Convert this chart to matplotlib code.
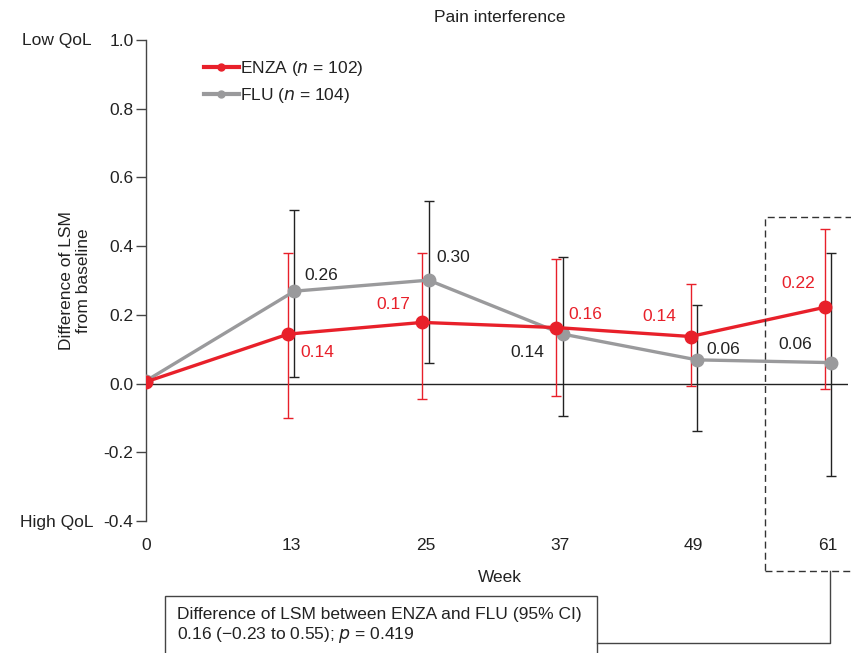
import matplotlib
matplotlib.use("Agg")
import matplotlib.pyplot as plt
from matplotlib.lines import Line2D
from matplotlib.patches import Rectangle

plt.rcParams['font.family'] = ['Liberation Sans', 'DejaVu Sans']

weeks = [0, 13, 25, 37, 49, 61]
week_labels = ['0', '13', '25', '37', '49', '61']

enza = [0.005, 0.144, 0.178, 0.163, 0.137, 0.222]
enza_lo = [0.005, -0.10, -0.046, -0.035, -0.006, -0.017]
enza_hi = [0.005, 0.38, 0.38, 0.364, 0.29, 0.45]
enza_lbl = [None, '0.14', '0.17', '0.16', '0.14', '0.22']

flu = [0.008, 0.269, 0.301, 0.144, 0.069, 0.061]
flu_lo = [0.008, 0.02, 0.061, -0.093, -0.137, -0.268]
flu_hi = [0.008, 0.506, 0.531, 0.367, 0.228, 0.38]
flu_lbl = [None, '0.26', '0.30', '0.14', '0.06', '0.06']

yticks = [-0.4, -0.2, 0.0, 0.2, 0.4, 0.6, 0.8, 1.0]
ytick_labels = ['-0.4', '-0.2', '0.0', '0.2', '0.4', '0.6', '0.8', '1.0']

RED = '#E8202A'
GRAY = '#9A9A9C'
DARK = '#222222'
FS = 12.5

W, H = 851, 653
fig = plt.figure(figsize=(W / 100, H / 100), dpi=100)
ax = fig.add_axes([146 / W, 1 - 521 / H, (848 - 146) / W, (521 - 40) / H])
ax.set_xlim(0, 62.8)
ax.set_ylim(-0.4, 1.0)

off = 0.28
ex = [w - off if w > 0 else w for w in weeks]
fx = [w + off if w > 0 else w for w in weeks]

# error bars
for i in range(1, len(weeks)):
    ax.errorbar([fx[i]], [flu[i]], yerr=[[flu[i] - flu_lo[i]], [flu_hi[i] - flu[i]]],
                fmt='none', ecolor=DARK, elinewidth=1.0, capsize=3.5, capthick=1.0, zorder=2)
    ax.errorbar([ex[i]], [enza[i]], yerr=[[enza[i] - enza_lo[i]], [enza_hi[i] - enza[i]]],
                fmt='none', ecolor=RED, elinewidth=1.0, capsize=3.5, capthick=1.0, zorder=2)

ax.axhline(0, color=DARK, lw=1.0, zorder=1)

ax.plot(fx, flu, color=GRAY, lw=2.4, marker='o', ms=9, zorder=3)
ax.plot(ex, enza, color=RED, lw=2.4, marker='o', ms=9, zorder=4)

# value labels
enza_off = [None, (12, -18), (-12, 18), (12, 13), (-14, 20), (-10, 24)]
flu_off = [None, (10, 16), (8, 23), (-18, -18), (10, 10), (-19, 18)]
for i in range(1, len(weeks)):
    dx, dy = enza_off[i]
    ax.annotate(enza_lbl[i], (ex[i], enza[i]), xytext=(dx, dy), textcoords='offset pixels',
                color=RED, fontsize=FS, ha='left' if dx > 0 else 'right', va='center', zorder=5)
    dx, dy = flu_off[i]
    ax.annotate(flu_lbl[i], (fx[i], flu[i]), xytext=(dx, dy), textcoords='offset pixels',
                color=DARK, fontsize=FS, ha='left' if dx > 0 else 'right', va='center', zorder=5)

for s in ['top', 'right', 'bottom']:
    ax.spines[s].set_visible(False)
ax.spines['left'].set_color('#444444')
ax.spines['left'].set_linewidth(1.0)
ax.set_yticks(yticks)
ax.set_yticklabels(ytick_labels)
ax.tick_params(axis='y', length=7, width=1.0, color='#444444', labelsize=FS, pad=2, labelcolor=DARK)
ax.set_xticks(weeks)
ax.set_xticklabels(week_labels)
ax.tick_params(axis='x', length=0, labelsize=FS, pad=12, labelcolor=DARK)
ax.set_xlabel('Week', fontsize=FS, color=DARK)
ax.xaxis.label.set_va('center')
ax.xaxis.set_label_coords((500 - 146) / (848 - 146), -(577 - 521) / (521 - 40))
ax.set_ylabel('Difference of LSM\nfrom baseline', fontsize=FS, color=DARK, linespacing=1.15)
ax.yaxis.label.set_va('center')
ax.yaxis.set_label_coords((75 - 146) / (848 - 146), (521 - 281) / (521 - 40))

fig.text(500 / W, 1 - 17 / H, 'Pain interference', ha='center', va='center', fontsize=FS, color=DARK)
fig.text(22 / W, 1 - 41 / H, 'Low QoL', ha='left', va='center', fontsize=FS, color=DARK)
fig.text(20 / W, 1 - 522 / H, 'High QoL', ha='left', va='center', fontsize=FS, color=DARK)

# legend
handles = [Line2D([], [], color=RED, lw=3, marker='o', ms=5),
           Line2D([], [], color=GRAY, lw=3, marker='o', ms=5)]
labels = ['ENZA ($\\it{n}$ = 102)', 'FLU ($\\it{n}$ = 104)']
leg = ax.legend(handles, labels, loc='upper left', bbox_to_anchor=((204 - 146) / 702, (521 - 59) / 481),
                frameon=False, fontsize=FS, handlelength=2.0, handletextpad=0.05,
                labelspacing=0.45, borderaxespad=0, borderpad=0)
for t in leg.get_texts():
    t.set_color(DARK)

# dashed box and connector to annotation box
fig.add_artist(Rectangle((765 / W, 1 - 571 / H), 100 / W, (571 - 217) / H, transform=fig.transFigure,
                         fill=False, ls=(0, (5, 3)), lw=1.0, ec='#333333'))
fig.add_artist(Line2D([830 / W, 830 / W, 597 / W], [1 - 571 / H, 1 - 643 / H, 1 - 643 / H],
                      transform=fig.transFigure, color='#444444', lw=1.0))
fig.add_artist(Rectangle((165 / W, 1 - 670 / H), (597 - 165) / W, (670 - 596) / H, transform=fig.transFigure,
                         fill=False, lw=1.0, ec='#444444'))
fig.text(177 / W, 1 - 614 / H, 'Difference of LSM between ENZA and FLU (95% CI)', ha='left', va='center',
         fontsize=FS, color=DARK)
fig.text(177 / W, 1 - 635 / H, '0.16 (\u22120.23 to 0.55); $\\it{p}$ = 0.419', ha='left', va='center',
         fontsize=FS, color=DARK)

fig.savefig('out.png', dpi=100)
